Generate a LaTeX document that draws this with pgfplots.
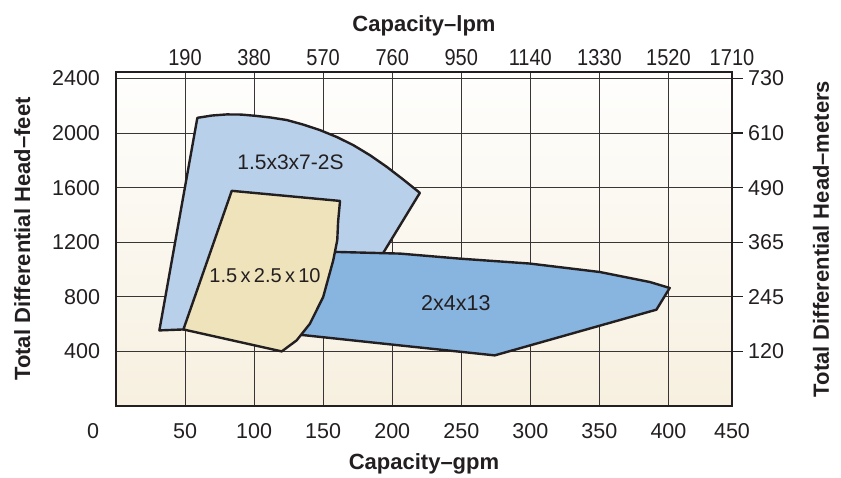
\documentclass[border=0pt]{standalone}
\usepackage{pgfplots}
\pgfplotsset{compat=1.18}
\usepackage{fontspec}
\setmainfont{Liberation Sans}
\newfontfamily\topfont[FakeStretch=0.87]{Liberation Sans}
\definecolor{lblue}{HTML}{B8D0EA}
\definecolor{mblue}{HTML}{88B4E0}
\definecolor{sand}{HTML}{EFE3BC}
\definecolor{bgtop}{HTML}{FEFEFD}
\definecolor{bgbot}{HTML}{F7F0E0}
\definecolor{ink}{HTML}{231F20}

\begin{document}
\begin{tikzpicture}
\tikzset{lbl/.style={font=\fontsize{22}{26}\selectfont\bfseries, text=ink}}
\pgfplotsset{
  common/.style={
    scale only axis, width=616pt, height=334pt,
    xmin=0, xmax=446, ymin=0, ymax=2448,
    /pgf/number format/assume math mode=true,
    /pgf/number format/1000 sep={},
    tick label style={font=\fontsize{21.5}{24}\selectfont, text=ink},
  },
}
% main axis: gpm / feet
\begin{axis}[common, name=ax,
    xtick={50,100,150,200,250,300,350,400,446},
    xticklabels={50,100,150,200,250,300,350,400,450},
    extra x ticks={0}, extra x tick labels={0},
    extra x tick style={grid=none, xticklabel style={xshift=-23pt}},
    ytick={400,800,1200,1600,2000,2400},
    xtick pos=lower, ytick pos=left,
    major tick length=0pt,
    grid=major,
    major grid style={line width=1.1pt, color=ink!90},
    axis line style={line width=2.6pt, color=ink},
    xticklabel style={yshift=-14pt},
    yticklabel style={xshift=-12.5pt},
    xlabel style={lbl, yshift=-8pt},
    ylabel style={lbl},
    ylabel shift=15pt,
    axis background/.style={shade, top color=bgtop, bottom color=bgbot},
    xlabel={Capacity–gpm},
    ylabel={Total Differential Head–feet},
]
% 1.5x3x7-2S
\addplot[fill=lblue, draw=ink, line width=2.4pt, line join=round] coordinates {
  (58.9,2112) (69.5,2129) (80.2,2137) (90.5,2136) (100.7,2127) (112.2,2114)
  (123.6,2096) (135.4,2063) (147.7,2022) (160.0,1971) (171.8,1912) (183.9,1838)
  (196.0,1753) (207.7,1662) (220.0,1562) (193.3,1119) (174,800) (100,560)
  (48.8,561) (31.4,554)
} --cycle;
% 2x4x13
\addplot[fill=mblue, draw=ink, line width=2.4pt, line join=round] coordinates {
  (140,1135) (160.2,1129) (205.6,1117) (249,1080) (299.6,1044) (350.3,982)
  (386.4,909) (400.9,865) (391.3,706) (274.2,371) (205.6,444) (138,517) (125,530)
} --cycle;
% 1.5x2.5x10
\addplot[fill=sand, draw=ink, line width=2.4pt, line join=round] coordinates {
  (83.8,1577) (162.2,1503) (160.8,1350) (160.2,1215) (157.3,1068) (150,799)
  (140.4,603) (130.8,481) (120,400) (48.8,561)
} --cycle;
\node[font=\fontsize{21}{24}\selectfont, text=ink] at (axis cs:126.3,1784) {1.5x3x7-2S};
\node[font=\fontsize{20}{24}\selectfont, text=ink] at (axis cs:107.9,954) {1.5\,x\,2.5\,x\,10};
\node[font=\fontsize{21.5}{24}\selectfont, text=ink] at (axis cs:246.1,756) {2x4x13};
\end{axis}
% secondary scales: lpm / meters
\begin{axis}[common,
    axis line style={draw=none},
    xtick={50,100,150,200,250,300,350,400,446},
    xticklabels={190,380,570,760,950,1140,1330,1520,1710},
    xtick pos=upper, xticklabel pos=upper,
    x tick style={draw=none},
    xticklabel style={font=\topfont\fontsize{23}{26}\selectfont, yshift=-8pt},
    ytick={400,800,1200,1600,2000,2400},
    yticklabels={120,245,365,490,610,730},
    ytick pos=right, yticklabel pos=right,
    tick align=outside, major tick length=10.7pt,
    y tick style={line width=1.3pt, color=ink},
    yticklabel style={xshift=2pt},
    xlabel near ticks, ylabel near ticks,
    xlabel style={lbl, yshift=7pt},
    ylabel style={lbl, yshift=-22pt},
    xlabel={Capacity–lpm},
    ylabel={Total Differential Head–meters},
]
\end{axis}
\path (ax.south west) +(-116pt,-69pt) (ax.north east) +(109pt,72pt);
\end{tikzpicture}
\end{document}
